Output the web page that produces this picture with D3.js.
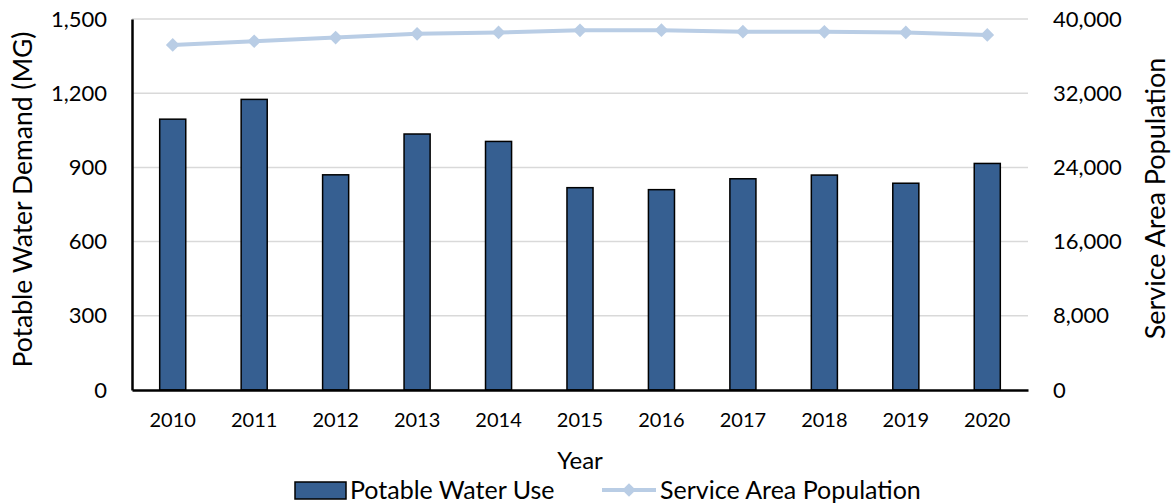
<!DOCTYPE html>
<html>
<head>
<meta charset="utf-8">
<script src="https://cdn.jsdelivr.net/npm/d3@7"></script>
<style>
  body { margin: 0; background: #fff; }
  text { font-family: Lato, "Open Sans", sans-serif; fill: #000; }
</style>
</head>
<body>
<div class="chart"></div>
<script>
var years = ["2010", "2011", "2012", "2013", "2014", "2015", "2016", "2017", "2018", "2019", "2020"];
var waterUse = [1095, 1175, 870, 1035, 1005, 818, 810, 854, 869, 836, 916];
var population = [37200, 37600, 38000, 38400, 38550, 38780, 38800, 38630, 38620, 38550, 38280];
var leftTicks = [0, 300, 600, 900, 1200, 1500];
var rightTicks = [0, 8000, 16000, 24000, 32000, 40000];

var svgWidth = 1172;
var svgHeight = 504;

var margin = { top: 19, right: 144, bottom: 114, left: 132 };
var width = svgWidth - margin.left - margin.right;
var height = svgHeight - margin.top - margin.bottom;

var svg = d3.select(".chart")
  .append("svg")
  .attr("width", svgWidth)
  .attr("height", svgHeight);

var chartGroup = svg.append("g")
  .attr("transform", `translate(${margin.left}, ${margin.top})`);

// scales
var xScale = d3.scaleBand()
  .domain(years)
  .range([0, width])
  .paddingInner(0.68)
  .paddingOuter(0.34);

var yLeft = d3.scaleLinear().domain([0, 1500]).range([height, 0]);
var yRight = d3.scaleLinear().domain([0, 40000]).range([height, 0]);

// gridlines
chartGroup.append("g")
  .selectAll("line")
  .data(leftTicks.slice(1))
  .enter()
  .append("line")
  .attr("x1", 0)
  .attr("x2", width)
  .attr("y1", d => yLeft(d))
  .attr("y2", d => yLeft(d))
  .attr("stroke", "#d9d9d9")
  .attr("stroke-width", 1.5);

// bars
chartGroup.selectAll("rect.bar")
  .data(waterUse)
  .enter()
  .append("rect")
  .attr("class", "bar")
  .attr("x", (d, i) => xScale(years[i]))
  .attr("y", d => yLeft(d))
  .attr("width", xScale.bandwidth())
  .attr("height", d => height - yLeft(d))
  .attr("fill", "#365f91")
  .attr("stroke", "#000")
  .attr("stroke-width", 1.5);

// line
var lineColor = "#b9cde5";
var line = d3.line()
  .x((d, i) => xScale(years[i]) + xScale.bandwidth() / 2)
  .y(d => yRight(d));

chartGroup.append("path")
  .datum(population)
  .attr("fill", "none")
  .attr("stroke", lineColor)
  .attr("stroke-width", 4)
  .attr("d", line);

var diamond = d3.symbol().type(d3.symbolDiamond2).size(120);
chartGroup.selectAll("path.marker")
  .data(population)
  .enter()
  .append("path")
  .attr("class", "marker")
  .attr("d", diamond)
  .attr("transform", (d, i) => `translate(${xScale(years[i]) + xScale.bandwidth() / 2}, ${yRight(d)})`)
  .attr("fill", lineColor);

// axes
var bottomAxis = d3.axisBottom(xScale).tickSize(0).tickPadding(23);
var leftAxis = d3.axisLeft(yLeft).tickValues(leftTicks).tickSize(0).tickPadding(25).tickFormat(d3.format(","));
var rightAxis = d3.axisRight(yRight).tickValues(rightTicks).tickSize(0).tickPadding(25).tickFormat(d3.format(","));

var gx = chartGroup.append("g")
  .attr("transform", `translate(0, ${height})`)
  .call(bottomAxis);
gx.select(".domain").attr("stroke", "#000").attr("stroke-width", 2.5);
gx.selectAll("text").style("font-size", "20px");

var gl = chartGroup.append("g").call(leftAxis);
gl.select(".domain").attr("stroke", "#000").attr("stroke-width", 2.5);
gl.selectAll("text").style("font-size", "22px");

var gr = chartGroup.append("g")
  .attr("transform", `translate(${width}, 0)`)
  .call(rightAxis);
gr.select(".domain").remove();
gr.selectAll("text").style("font-size", "22px");

// axis titles
chartGroup.append("text")
  .attr("transform", "rotate(-90)")
  .attr("x", -height / 2 + 5)
  .attr("y", -margin.left + 32)
  .attr("text-anchor", "middle")
  .style("font-size", "26.5px")
  .text("Potable Water Demand (MG)");

chartGroup.append("text")
  .attr("transform", "rotate(-90)")
  .attr("x", -height / 2 + 6)
  .attr("y", width + 137)
  .attr("text-anchor", "middle")
  .style("font-size", "27px")
  .text("Service Area Population");

chartGroup.append("text")
  .attr("x", 580 - margin.left)
  .attr("y", height + 79)
  .attr("text-anchor", "middle")
  .style("font-size", "24px")
  .text("Year");

// legend
var legend = svg.append("g");
legend.append("rect")
  .attr("x", 295)
  .attr("y", 482)
  .attr("width", 51)
  .attr("height", 17)
  .attr("fill", "#365f91")
  .attr("stroke", "#000")
  .attr("stroke-width", 1.5);
legend.append("text")
  .attr("x", 350)
  .attr("y", 499)
  .style("font-size", "25px")
  .text("Potable Water Use");

legend.append("line")
  .attr("x1", 602)
  .attr("x2", 656)
  .attr("y1", 490)
  .attr("y2", 490)
  .attr("stroke", lineColor)
  .attr("stroke-width", 4);
legend.append("path")
  .attr("d", diamond)
  .attr("transform", "translate(629, 490)")
  .attr("fill", lineColor);
legend.append("text")
  .attr("x", 660)
  .attr("y", 499)
  .style("font-size", "25px")
  .text("Service Area Population");
</script>
</body>
</html>
